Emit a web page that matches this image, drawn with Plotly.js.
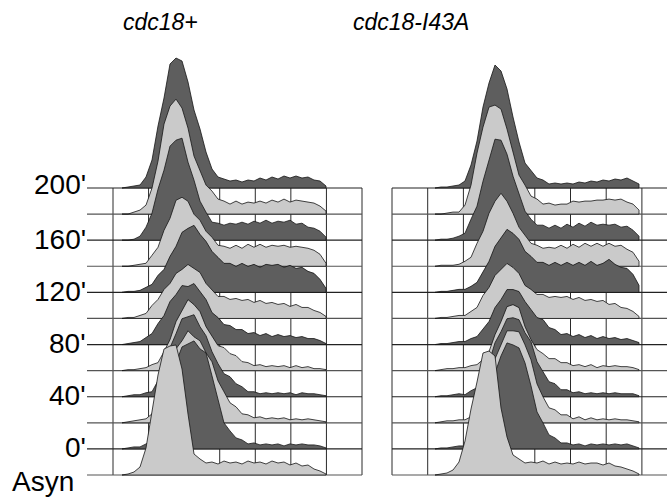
<!DOCTYPE html>
<html><head><meta charset="utf-8">
<script src="https://cdn.plot.ly/plotly-3.0.1.min.js"></script>
<style>html,body{margin:0;padding:0;background:#fff}#chart{width:667px;height:497px}</style>
</head><body><div id="chart"></div>
<script>
// DNA-content channel (relative), shared by every histogram
const channels = [0,6,12,18,24,30,36,42,48,54,60,66,72,78,84,90,96,102,108,114,120,126,132,138,144,150,156,162,168,174,180,186,192,198,204];
const timeLabels = ["Asyn","0'","20'","40'","60'","80'","100'","120'","140'","160'","180'","200'"];
const shownLabels = ["Asyn","0'","40'","80'","120'","160'","200'"];
const panelTitles = ["cdc18+","cdc18-I43A"];

// cdc18+ histograms (cell counts per channel)
const wt_Asyn = [0,1,3,8,27,63,100,126,129,130,106,61,21,16,12,13,11,14,12,13,11,14,12,13,11,14,12,13,10,12,9,10,6,4,1];
const wt_0   = [0,1,2,2,5,9,26,44,70,86,102,105,108,100,96,73,49,26,18,11,9,5,6,4,5,4,5,3,5,4,5,4,4,3,1];
const wt_20  = [0,1,2,3,4,9,17,36,53,74,82,92,86,82,70,61,42,31,20,16,9,8,5,6,4,5,4,5,3,4,3,4,3,2,1];
const wt_40  = [0,1,2,2,4,5,16,29,49,63,78,80,82,70,61,45,33,23,20,13,10,5,5,3,4,3,4,3,4,2,4,3,3,2,1];
const wt_60  = [0,1,1,2,3,6,8,19,31,49,60,71,66,59,44,34,25,23,17,15,9,8,5,6,4,5,4,5,3,5,3,4,2,2,1];
const wt_80  = [0,1,2,3,7,11,21,29,43,50,59,58,61,53,45,32,27,20,19,15,15,11,12,9,11,8,10,8,9,7,8,6,6,4,1];
const wt_100 = [0,1,1,3,5,13,19,29,35,45,49,54,50,46,35,29,22,22,19,20,18,19,16,18,15,16,14,15,12,14,11,11,8,6,2];
const wt_120 = [0,1,1,2,5,8,17,23,36,46,60,64,67,58,51,41,35,29,29,26,29,26,28,25,28,27,28,25,27,24,25,21,19,13,4];
const wt_140 = [0,0,1,2,3,11,19,36,48,66,69,65,52,46,35,29,21,20,18,21,18,22,19,22,19,21,20,21,19,20,19,18,16,12,3];
const wt_160 = [0,0,1,4,13,27,51,70,94,100,102,78,60,39,28,18,17,15,17,16,18,16,19,17,20,17,19,18,20,16,17,13,12,9,3];
const wt_180 = [0,0,2,4,9,26,53,90,108,115,106,86,58,43,29,23,15,13,10,13,10,12,11,13,11,14,12,15,12,14,13,12,11,8,3];
const wt_200 = [0,1,2,3,11,28,62,90,124,130,127,106,78,59,36,19,11,9,7,8,6,8,7,10,8,11,9,12,10,12,10,11,8,7,2];

// cdc18-I43A histograms
const mt_Asyn = [0,1,2,5,13,34,66,93,122,124,119,67,38,20,16,12,13,12,14,11,13,11,12,11,13,11,12,12,10,12,9,8,6,4,1];
const mt_0   = [0,1,1,2,3,3,6,11,29,49,76,93,106,104,101,86,63,37,26,14,11,6,6,4,5,3,5,4,5,4,5,4,5,3,1];
const mt_20  = [0,1,2,2,3,3,6,9,23,39,64,78,92,92,91,78,63,39,26,15,13,8,8,4,6,3,5,3,4,3,4,3,3,2,1];
const mt_40  = [0,1,1,2,3,2,6,9,21,34,54,65,78,79,77,64,55,35,25,15,13,7,7,4,5,3,4,3,4,3,4,3,3,3,1];
const mt_60  = [0,1,2,2,3,3,5,6,11,19,36,49,64,66,63,44,31,21,17,12,12,8,8,5,6,4,6,3,5,4,5,4,4,3,1];
const mt_80  = [0,1,1,2,3,3,6,8,15,23,37,45,55,55,53,43,35,27,25,17,15,10,11,8,10,7,9,6,8,6,7,5,6,4,2];
const mt_100 = [0,1,1,2,3,3,7,11,23,31,43,49,55,51,45,33,29,24,24,21,22,21,22,19,21,18,19,17,18,14,15,11,10,7,2];
const mt_120 = [0,1,1,2,3,3,6,10,21,31,46,55,63,59,53,41,36,30,30,27,30,27,30,27,30,27,31,27,29,33,28,25,24,18,7];
const mt_140 = [0,1,1,1,2,5,9,23,35,53,65,73,65,53,39,31,23,21,18,19,18,21,18,22,19,23,20,23,20,23,20,21,17,14,5];
const mt_160 = [0,1,1,2,4,7,21,34,59,79,101,100,86,64,46,29,21,15,15,12,15,12,16,13,17,14,18,15,16,15,16,13,14,10,4];
const mt_180 = [0,0,1,2,2,9,29,61,87,107,109,105,85,63,39,29,18,15,10,11,9,10,10,13,12,13,13,14,14,15,14,15,12,10,4];
const mt_200 = [0,1,1,2,3,7,23,47,81,105,123,117,99,71,46,25,17,10,8,4,5,4,5,4,6,5,7,6,8,7,9,8,10,7,4];

const wtSeries = [wt_Asyn,wt_0,wt_20,wt_40,wt_60,wt_80,wt_100,wt_120,wt_140,wt_160,wt_180,wt_200];
const mtSeries = [mt_Asyn,mt_0,mt_20,mt_40,mt_60,mt_80,mt_100,mt_120,mt_140,mt_160,mt_180,mt_200];

// ---- layout geometry ----
const W = 667, H = 497;
const baseBottomPx = 475, baseTopPx = 188;
const n = timeLabels.length;
const step = (baseBottomPx - baseTopPx) / (n - 1);
const leftOrigin = 122, rightOrigin = 435;
const DARK = '#5e5e5e', LIGHT = '#cacaca', EDGE = '#151515';
const px = v => v / W;

const traces = [];
function addPanel(series, axis) {
  for (let k = n - 1; k >= 0; k--) {
    const off = k * step;
    const vals = series[k];
    const xs = channels.concat([channels[channels.length - 1], channels[0]]);
    const ys = vals.map(v => v + off).concat([off, off]);
    traces.push({
      type: 'scatter', mode: 'lines', x: xs, y: ys, xaxis: axis, yaxis: 'y',
      fill: 'toself', fillcolor: (k % 2 === 1) ? DARK : LIGHT,
      line: {color: EDGE, width: 0.8}, hoverinfo: 'skip', showlegend: false,
      name: timeLabels[k]
    });
  }
}
addPanel(wtSeries, 'x');
addPanel(mtSeries, 'x2');

const shapes = [];
const topY = (n - 1) * step;
const lBox0 = 113, lBox1 = 362, lCols = 7;
for (let j = 0; j <= lCols; j++) {
  const xp = lBox0 + j * (lBox1 - lBox0) / lCols;
  shapes.push({type:'line', layer:'below', xref:'paper', yref:'y', x0:px(xp), x1:px(xp), y0:0, y1:topY, line:{color:'#2a2a2a', width:1}});
}
const rBox0 = 392, rColW = 35.7;
for (let j = 0; j <= 7; j++) {
  const xp = rBox0 + j * rColW;
  shapes.push({type:'line', layer:'below', xref:'paper', yref:'y', x0:px(xp), x1:px(xp), y0:0, y1:topY, line:{color:'#2a2a2a', width:1}});
}
for (let k = 0; k < n; k++) {
  const col = (k % 2 === 1) ? '#222' : '#555';
  shapes.push({type:'line', layer:'below', xref:'paper', yref:'y', x0:px(87), x1:px(lBox1), y0:k*step, y1:k*step, line:{color:col, width:1.2}});
  shapes.push({type:'line', layer:'below', xref:'paper', yref:'y', x0:px(rBox0), x1:1, y0:k*step, y1:k*step, line:{color:col, width:1.2}});
}

const annotations = [];
const font = 'Liberation Sans, Arial, Helvetica, sans-serif';
annotations.push({xref:'paper', yref:'paper', x:px(160), y:1 - 22/H, text:'<i>' + panelTitles[0] + '</i>', showarrow:false, xanchor:'center', yanchor:'middle', font:{family:font, size:23, color:'#000'}});
annotations.push({xref:'paper', yref:'paper', x:px(411), y:1 - 22/H, text:'<i>' + panelTitles[1] + '</i>', showarrow:false, xanchor:'center', yanchor:'middle', font:{family:font, size:23, color:'#000'}});
shownLabels.forEach(lab => {
  const k = timeLabels.indexOf(lab);
  const isAsyn = lab === 'Asyn';
  annotations.push({
    xref:'paper', yref:'y', x: px(isAsyn ? 76 : 88), y: k * step,
    yshift: isAsyn ? -6 : (k === n - 1 ? 4 : 1),
    text: lab, showarrow:false, xanchor:'right', yanchor:'middle',
    font:{family:font, size:28, color:'#000'}
  });
});

const layout = {
  width: W, height: H, margin:{l:0, r:0, t:0, b:0},
  paper_bgcolor:'#fff', plot_bgcolor:'rgba(0,0,0,0)',
  xaxis:{domain:[0,1], range:[-leftOrigin, W - leftOrigin], visible:false, fixedrange:true},
  xaxis2:{domain:[0,1], range:[-rightOrigin, W - rightOrigin], overlaying:'x', visible:false, fixedrange:true},
  yaxis:{domain:[0,1], range:[-(H - baseBottomPx), baseBottomPx], visible:false, fixedrange:true},
  shapes: shapes, annotations: annotations, showlegend:false
};
Plotly.newPlot('chart', traces, layout, {staticPlot:true, displayModeBar:false});
</script>
</body></html>
